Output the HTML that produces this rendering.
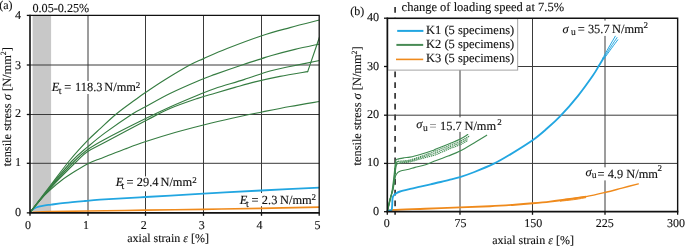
<!DOCTYPE html><html><head><meta charset="utf-8"><style>html,body{margin:0;padding:0;background:#fff;width:685px;height:246px;overflow:hidden}svg{display:block;will-change:transform}text{font-family:"Liberation Serif",serif;fill:#111;stroke:#111;stroke-width:0.12px;text-rendering:geometricPrecision}</style></head><body>
<svg width="685" height="246" viewBox="0 0 685 246">
<rect width="685" height="246" fill="#fff"/>
<rect x="32.6" y="15.40" width="18.5" height="197.45" fill="#c8c8c8"/>
<line x1="88.00" y1="15.40" x2="88.00" y2="212.85" stroke="#3a3a3a" stroke-width="1"/>
<line x1="145.50" y1="15.40" x2="145.50" y2="212.85" stroke="#3a3a3a" stroke-width="1"/>
<line x1="203.50" y1="15.40" x2="203.50" y2="212.85" stroke="#3a3a3a" stroke-width="1"/>
<line x1="261.50" y1="15.40" x2="261.50" y2="212.85" stroke="#3a3a3a" stroke-width="1"/>
<line x1="30.00" y1="163.30" x2="319.20" y2="163.30" stroke="#3a3a3a" stroke-width="1"/>
<line x1="30.00" y1="114.50" x2="319.20" y2="114.50" stroke="#3a3a3a" stroke-width="1"/>
<line x1="30.00" y1="65.00" x2="319.20" y2="65.00" stroke="#3a3a3a" stroke-width="1"/>
<rect x="52.00" y="81.00" width="90.00" height="13.00" fill="#fff"/>
<rect x="114.00" y="176.40" width="85.00" height="14.90" fill="#fff"/>
<rect x="238.00" y="193.00" width="79.00" height="13.20" fill="#fff"/>
<clipPath id="ca"><rect x="30.00" y="15.40" width="289.20" height="197.45"/></clipPath>
<g fill="none" stroke-linejoin="round" stroke-linecap="round" clip-path="url(#ca)">
<path d="M30.00,212.50 C33.33,212.37 40.50,211.95 50.00,211.70 C59.50,211.45 71.17,211.25 87.00,211.00 C102.83,210.75 125.67,210.48 145.00,210.20 C164.33,209.92 183.67,209.62 203.00,209.30 C222.33,208.98 241.58,208.65 261.00,208.30 C280.42,207.95 309.75,207.38 319.50,207.20" stroke="#ef8a1c" stroke-width="1.7"/>
<path d="M30.00,212.50 C30.33,212.08 31.17,210.75 32.00,210.00 C32.83,209.25 33.88,208.57 35.00,208.00 C36.12,207.43 37.03,207.03 38.70,206.60 C40.37,206.17 42.92,205.73 45.00,205.40 C47.08,205.07 47.87,205.02 51.20,204.60 C54.53,204.18 59.37,203.50 65.00,202.90 C70.63,202.30 79.17,201.53 85.00,201.00 C90.83,200.47 89.92,200.37 100.00,199.70 C110.08,199.03 128.28,198.00 145.50,197.00 C162.72,196.00 190.05,194.47 203.30,193.70 C216.55,192.93 215.38,192.93 225.00,192.40 C234.62,191.87 245.25,191.30 261.00,190.50 C276.75,189.70 309.75,188.08 319.50,187.60" stroke="#22a6e1" stroke-width="1.8"/>
<path d="M30.00,212.50 C31.67,210.42 36.67,203.75 40.00,200.00 C43.33,196.25 46.33,193.33 50.00,190.00 C53.67,186.67 57.83,183.12 62.00,180.00 C66.17,176.88 70.60,174.07 75.00,171.30 C79.40,168.53 84.23,165.50 88.40,163.40 C92.57,161.30 96.90,159.93 100.00,158.70 C103.10,157.47 102.83,157.62 107.00,156.00 C111.17,154.38 118.67,151.37 125.00,149.00 C131.33,146.63 136.67,144.55 145.00,141.80 C153.33,139.05 165.25,135.30 175.00,132.50 C184.75,129.70 194.00,127.38 203.50,125.00 C213.00,122.62 222.25,120.37 232.00,118.20 C241.75,116.03 252.33,113.95 262.00,112.00 C271.67,110.05 280.42,108.25 290.00,106.50 C299.58,104.75 314.58,102.33 319.50,101.50" stroke="#367d42" stroke-width="1.15"/>
<path d="M30.00,212.50 C33.33,208.50 42.33,196.92 50.00,188.50 C57.67,180.08 69.72,168.15 76.00,162.00 C82.28,155.85 82.87,154.88 87.70,151.60 C92.53,148.32 95.12,147.57 105.00,142.30 C114.88,137.03 136.17,125.63 147.00,120.00 C157.83,114.37 161.67,112.07 170.00,108.50 C178.33,104.93 189.50,101.15 197.00,98.60 C204.50,96.05 208.67,95.07 215.00,93.20 C221.33,91.33 228.33,89.28 235.00,87.40 C241.67,85.52 247.50,83.73 255.00,81.90 C262.50,80.07 271.22,78.12 280.00,76.40 C288.78,74.68 303.08,72.40 307.70,71.60" stroke="#367d42" stroke-width="1.15"/>
<path d="M30.00,212.50 C33.33,208.42 42.67,196.50 50.00,188.00 C57.33,179.50 67.72,167.92 74.00,161.50 C80.28,155.08 82.53,153.22 87.70,149.50 C92.87,145.78 95.68,144.20 105.00,139.20 C114.32,134.20 132.77,124.87 143.60,119.50 C154.43,114.13 161.10,111.00 170.00,107.00 C178.90,103.00 189.50,98.58 197.00,95.50 C204.50,92.42 207.18,91.15 215.00,88.50 C222.82,85.85 234.73,82.52 243.90,79.60 C253.07,76.68 262.32,73.18 270.00,71.00 C277.68,68.82 281.75,68.25 290.00,66.50 C298.25,64.75 314.58,61.50 319.50,60.50" stroke="#367d42" stroke-width="1.15"/>
<path d="M30.00,212.50 C33.33,208.25 43.00,195.58 50.00,187.00 C57.00,178.42 65.72,167.68 72.00,161.00 C78.28,154.32 82.20,151.58 87.70,146.90 C93.20,142.22 97.57,138.40 105.00,132.90 C112.43,127.40 125.57,118.25 132.30,113.90 C139.03,109.55 139.12,110.20 145.40,106.80 C151.68,103.40 160.85,97.97 170.00,93.50 C179.15,89.03 192.80,83.18 200.30,80.00 C207.80,76.82 207.92,76.93 215.00,74.40 C222.08,71.87 235.00,67.43 242.80,64.80 C250.60,62.17 257.00,60.15 261.80,58.60 C266.60,57.05 266.07,57.03 271.60,55.50 C277.13,53.97 287.02,51.32 295.00,49.40 C302.98,47.48 315.42,44.90 319.50,44.00" stroke="#367d42" stroke-width="1.15"/>
<path d="M30.00,212.50 C33.33,208.08 43.33,194.75 50.00,186.00 C56.67,177.25 63.72,167.60 70.00,160.00 C76.28,152.40 82.62,145.68 87.70,140.40 C92.78,135.12 95.73,132.70 100.50,128.30 C105.27,123.90 110.55,118.72 116.30,114.00 C122.05,109.28 130.15,103.57 135.00,100.00 C139.85,96.43 140.48,95.93 145.40,92.60 C150.32,89.27 157.03,84.63 164.50,80.00 C171.97,75.37 183.68,68.37 190.20,64.80 C196.72,61.23 197.45,61.32 203.60,58.60 C209.75,55.88 217.40,52.32 227.10,48.50 C236.80,44.68 251.32,39.18 261.80,35.70 C272.28,32.22 280.38,30.22 290.00,27.60 C299.62,24.98 314.58,21.27 319.50,20.00" stroke="#367d42" stroke-width="1.15"/>
<path d="M307.70,71.60 L319.60,36.80" stroke="#367d42" stroke-width="1.15"/>
</g>
<path d="M30.00,15.40 H319.20 V212.85" fill="none" stroke="#111" stroke-width="1.3"/>
<path d="M30.00,14.80 V212.85 H319.80" fill="none" stroke="#111" stroke-width="1.6"/>
<line x1="26.80" y1="212.85" x2="30.00" y2="212.85" stroke="#111" stroke-width="1.3"/>
<line x1="26.80" y1="163.30" x2="30.00" y2="163.30" stroke="#111" stroke-width="1.3"/>
<line x1="26.80" y1="114.50" x2="30.00" y2="114.50" stroke="#111" stroke-width="1.3"/>
<line x1="26.80" y1="65.00" x2="30.00" y2="65.00" stroke="#111" stroke-width="1.3"/>
<line x1="26.80" y1="15.40" x2="30.00" y2="15.40" stroke="#111" stroke-width="1.3"/>
<line x1="30.00" y1="212.85" x2="30.00" y2="215.80" stroke="#111" stroke-width="1.3"/>
<line x1="88.00" y1="212.85" x2="88.00" y2="215.80" stroke="#111" stroke-width="1.3"/>
<line x1="145.50" y1="212.85" x2="145.50" y2="215.80" stroke="#111" stroke-width="1.3"/>
<line x1="203.50" y1="212.85" x2="203.50" y2="215.80" stroke="#111" stroke-width="1.3"/>
<line x1="261.50" y1="212.85" x2="261.50" y2="215.80" stroke="#111" stroke-width="1.3"/>
<line x1="319.20" y1="212.85" x2="319.20" y2="215.80" stroke="#111" stroke-width="1.3"/>
<line x1="460.00" y1="18.20" x2="460.00" y2="211.60" stroke="#3a3a3a" stroke-width="1"/>
<line x1="532.50" y1="18.20" x2="532.50" y2="211.60" stroke="#3a3a3a" stroke-width="1"/>
<line x1="605.00" y1="18.20" x2="605.00" y2="211.60" stroke="#3a3a3a" stroke-width="1"/>
<line x1="387.30" y1="163.40" x2="677.65" y2="163.40" stroke="#3a3a3a" stroke-width="1"/>
<line x1="387.30" y1="115.20" x2="677.65" y2="115.20" stroke="#3a3a3a" stroke-width="1"/>
<line x1="387.30" y1="66.50" x2="677.65" y2="66.50" stroke="#3a3a3a" stroke-width="1"/>
<line x1="395.10" y1="7.00" x2="395.10" y2="214.80" stroke="#333" stroke-width="1.7" stroke-dasharray="5.8,4.95"/>
<rect x="415.00" y="117.30" width="90.00" height="14.60" fill="#fff"/>
<rect x="561.00" y="20.60" width="90.00" height="15.30" fill="#fff"/>
<rect x="584.00" y="167.30" width="80.00" height="13.10" fill="#fff"/>
<g fill="none" stroke-linejoin="round" stroke-linecap="round">
<path d="M387.30,211.60 C388.25,211.32 386.72,210.38 393.00,209.90 C399.28,209.42 413.83,209.12 425.00,208.70 C436.17,208.28 449.17,207.82 460.00,207.40 C470.83,206.98 480.83,206.65 490.00,206.20 C499.17,205.75 507.88,205.18 515.00,204.70 C522.12,204.22 526.87,203.82 532.70,203.30 C538.53,202.78 544.73,202.20 550.00,201.60 C555.27,201.00 558.30,200.53 564.30,199.70 C570.30,198.87 582.38,197.12 586.00,196.60" stroke="#ef8a1c" stroke-width="1.9" stroke-linecap="butt"/>
<path d="M564.30,199.70 C567.92,199.18 579.10,197.83 586.00,196.60 C592.90,195.37 599.70,193.72 605.70,192.30 C611.70,190.88 616.57,189.50 622.00,188.10 C627.43,186.70 635.58,184.60 638.30,183.90" stroke="#ef8a1c" stroke-width="1.45"/>
<path d="M560.00,201.20 C562.50,200.92 570.67,200.10 575.00,199.50 C579.33,198.90 584.17,197.92 586.00,197.60" stroke="#ef8a1c" stroke-width="1.0" stroke-linecap="butt"/>
<path d="M387.30,211.30 C387.58,211.18 388.28,210.83 389.00,210.60 C389.72,210.37 391.07,210.83 391.60,209.90 C392.13,208.97 392.05,206.90 392.20,205.00 C392.35,203.10 392.27,200.07 392.50,198.50 C392.73,196.93 393.02,196.45 393.60,195.60 C394.18,194.75 394.93,194.08 396.00,193.40 C397.07,192.72 397.63,192.25 400.00,191.50 C402.37,190.75 406.82,189.72 410.20,188.90 C413.58,188.08 416.92,187.37 420.30,186.60 C423.68,185.83 427.10,185.07 430.50,184.30 C433.90,183.53 437.45,182.78 440.70,182.00 C443.95,181.22 446.78,180.42 450.00,179.60 C453.22,178.78 455.93,178.37 460.00,177.10 C464.07,175.83 468.75,174.23 474.40,172.00 C480.05,169.77 487.97,166.60 493.90,163.70 C499.83,160.80 503.62,158.47 510.00,154.60 C516.38,150.73 526.03,144.85 532.20,140.50 C538.37,136.15 542.28,132.60 547.00,128.50 C551.72,124.40 555.33,121.35 560.50,115.90 C565.67,110.45 572.60,102.53 578.00,95.80 C583.40,89.07 589.40,80.53 592.90,75.50 C596.40,70.47 597.22,68.52 599.00,65.60 C600.78,62.68 602.83,59.27 603.60,58.00" stroke="#22a6e1" stroke-width="1.85"/>
<path d="M602.60,58.50 C603.67,56.58 606.88,50.72 609.00,47.00 C611.12,43.28 614.25,38.00 615.30,36.20" stroke="#22a6e1" stroke-width="1.0"/>
<path d="M603.40,58.50 C604.57,56.67 608.13,50.98 610.40,47.50 C612.67,44.02 615.90,39.25 617.00,37.60" stroke="#22a6e1" stroke-width="1.0"/>
<path d="M604.20,58.50 C605.43,56.78 609.33,51.32 611.60,48.20 C613.87,45.08 616.77,41.20 617.80,39.80" stroke="#22a6e1" stroke-width="1.0"/>
<path d="M398.50,161.30 C399.42,161.22 402.08,161.02 404.00,160.80 C405.92,160.58 407.17,160.73 410.00,160.00 C412.83,159.27 417.22,157.70 421.00,156.40 C424.78,155.10 430.20,153.13 432.70,152.20 C435.20,151.27 433.12,151.97 436.00,150.80 C438.88,149.63 446.00,146.78 450.00,145.20 C454.00,143.62 456.72,142.87 460.00,141.30 C463.28,139.73 468.08,136.72 469.70,135.80" stroke="#3e8a50" stroke-width="1.15" stroke-linecap="butt" stroke-dasharray="1.3,0.7" stroke-dashoffset="0.00"/>
<path d="M399.00,162.28 C399.83,162.18 402.17,161.92 404.00,161.70 C405.83,161.48 407.17,161.63 410.00,160.95 C412.83,160.27 417.22,158.78 421.00,157.60 C424.78,156.43 430.20,154.72 432.70,153.90 C435.20,153.08 433.12,153.87 436.00,152.70 C438.88,151.53 446.00,148.51 450.00,146.90 C454.00,145.29 457.03,144.43 460.00,143.05 C462.97,141.67 466.50,139.37 467.80,138.64" stroke="#3e8a50" stroke-width="1.15" stroke-linecap="butt" stroke-dasharray="1.3,0.7" stroke-dashoffset="0.65"/>
<path d="M399.00,163.30 C399.83,163.18 402.17,162.83 404.00,162.60 C405.83,162.37 407.17,162.53 410.00,161.90 C412.83,161.27 417.22,159.85 421.00,158.80 C424.78,157.75 430.20,156.30 432.70,155.60 C435.20,154.90 433.12,155.77 436.00,154.60 C438.88,153.43 446.00,150.23 450.00,148.60 C454.00,146.97 457.03,146.17 460.00,144.80 C462.97,143.43 466.50,141.13 467.80,140.40" stroke="#3e8a50" stroke-width="1.15" stroke-linecap="butt" stroke-dasharray="1.3,0.7" stroke-dashoffset="1.30"/>
<path d="M387.30,211.50 C387.75,209.42 389.05,202.58 390.00,199.00 C390.95,195.42 392.20,193.67 393.00,190.00 C393.80,186.33 394.33,180.67 394.80,177.00 C395.27,173.33 395.47,170.12 395.80,168.00 C396.13,165.88 396.27,165.08 396.80,164.30 C397.33,163.52 398.63,163.47 399.00,163.30" stroke="#3e8a50" stroke-width="1.1"/>
<path d="M387.30,211.50 C387.75,209.50 389.12,203.08 390.00,199.50 C390.88,195.92 391.87,193.92 392.60,190.00 C393.33,186.08 393.93,179.83 394.40,176.00 C394.87,172.17 395.07,169.23 395.40,167.00 C395.73,164.77 395.88,163.55 396.40,162.60 C396.92,161.65 398.15,161.52 398.50,161.30" stroke="#3e8a50" stroke-width="1.1"/>
<path d="M387.30,211.50 C387.75,209.75 389.13,204.58 390.00,201.00 C390.87,197.42 391.75,193.33 392.50,190.00 C393.25,186.67 393.98,183.37 394.50,181.00 C395.02,178.63 395.10,177.17 395.60,175.80 C396.10,174.43 396.67,173.60 397.50,172.80 C398.33,172.00 398.68,171.60 400.60,171.00 C402.52,170.40 406.60,169.80 409.00,169.20 C411.40,168.60 412.23,168.15 415.00,167.40 C417.77,166.65 422.43,165.72 425.60,164.70 C428.77,163.68 430.23,162.75 434.00,161.30 C437.77,159.85 443.87,157.72 448.20,156.00 C452.53,154.28 455.37,153.38 460.00,151.00 C464.63,148.62 471.55,144.33 476.00,141.70 C480.45,139.07 484.92,136.28 486.70,135.20" stroke="#3e8a50" stroke-width="1.1"/>
<path d="M387.30,211.50 C387.75,209.58 389.18,203.58 390.00,200.00 C390.82,196.42 391.53,194.00 392.20,190.00 C392.87,186.00 393.53,180.00 394.00,176.00 C394.47,172.00 394.72,168.50 395.00,166.00 C395.28,163.50 395.37,162.12 395.70,161.00 C396.03,159.88 395.58,159.83 397.00,159.30 C398.42,158.77 402.03,158.17 404.20,157.80 C406.37,157.43 407.20,157.70 410.00,157.10 C412.80,156.50 417.22,155.30 421.00,154.20 C424.78,153.10 430.20,151.35 432.70,150.50 C435.20,149.65 433.12,150.27 436.00,149.10 C438.88,147.93 446.03,145.13 450.00,143.50 C453.97,141.87 456.83,140.80 459.80,139.30 C462.77,137.80 466.47,135.30 467.80,134.50" stroke="#3e8a50" stroke-width="1.1"/>
</g>
<rect x="387.9" y="18.7" width="129.8" height="51.4" fill="#fff" stroke="#9a9a9a" stroke-width="0.9"/>
<line x1="397.20" y1="30.90" x2="423.40" y2="30.90" stroke="#22a6e1" stroke-width="2"/>
<line x1="396.40" y1="44.90" x2="423.20" y2="44.90" stroke="#488b55" stroke-width="2"/>
<line x1="396.00" y1="59.40" x2="423.20" y2="59.40" stroke="#ef8a1c" stroke-width="1.6"/>
<path d="M387.30,18.20 H677.65 V211.60" fill="none" stroke="#111" stroke-width="1.4"/>
<path d="M387.30,17.50 V211.60 H678.35" fill="none" stroke="#111" stroke-width="1.6"/>
<line x1="384.00" y1="211.70" x2="387.30" y2="211.70" stroke="#111" stroke-width="1.3"/>
<line x1="384.00" y1="163.40" x2="387.30" y2="163.40" stroke="#111" stroke-width="1.3"/>
<line x1="384.00" y1="115.20" x2="387.30" y2="115.20" stroke="#111" stroke-width="1.3"/>
<line x1="384.00" y1="66.50" x2="387.30" y2="66.50" stroke="#111" stroke-width="1.3"/>
<line x1="384.00" y1="18.20" x2="387.30" y2="18.20" stroke="#111" stroke-width="1.3"/>
<line x1="387.30" y1="211.60" x2="387.30" y2="214.80" stroke="#111" stroke-width="1.3"/>
<line x1="460.00" y1="211.60" x2="460.00" y2="214.80" stroke="#111" stroke-width="1.3"/>
<line x1="532.50" y1="211.60" x2="532.50" y2="214.80" stroke="#111" stroke-width="1.3"/>
<line x1="605.00" y1="211.60" x2="605.00" y2="214.80" stroke="#111" stroke-width="1.3"/>
<line x1="677.65" y1="211.60" x2="677.65" y2="214.80" stroke="#111" stroke-width="1.3"/>
<text x="-0.80" y="8.50" font-size="12" text-anchor="start">(a)</text>
<text x="32.40" y="11.70" font-size="12.2" text-anchor="start">0.05-0.25%</text>
<text x="21.20" y="216.30" font-size="12.2" text-anchor="end">0</text>
<text x="21.20" y="166.20" font-size="12.2" text-anchor="end">1</text>
<text x="21.20" y="116.90" font-size="12.2" text-anchor="end">2</text>
<text x="21.20" y="68.80" font-size="12.2" text-anchor="end">3</text>
<text x="21.20" y="18.90" font-size="12.2" text-anchor="end">4</text>
<text x="28.10" y="228.80" font-size="12" text-anchor="middle">0</text>
<text x="86.10" y="228.80" font-size="12" text-anchor="middle">1</text>
<text x="143.80" y="228.80" font-size="12" text-anchor="middle">2</text>
<text x="201.70" y="228.80" font-size="12" text-anchor="middle">3</text>
<text x="259.50" y="228.80" font-size="12" text-anchor="middle">4</text>
<text x="317.50" y="228.80" font-size="12" text-anchor="middle">5</text>
<text x="127.30" y="241.80" font-size="12" text-anchor="start">axial strain <tspan font-style="italic">ε</tspan> [%]</text>
<text transform="translate(10.6,166.3) rotate(-90)" font-size="12.4">tensile stress <tspan font-style="italic">σ</tspan> [N/mm<tspan font-size="8" dy="-4.5">2</tspan><tspan dy="4.5">]</tspan></text>
<text x="51.85" y="91.30" font-size="12.4" font-style="italic">E</text>
<text x="58.81" y="94.20" font-size="9.8">t</text>
<text x="64.18" y="91.30" font-size="12.4">=</text>
<text x="75.11" y="91.30" font-size="12.4">118.3</text>
<text x="104.24" y="91.30" font-size="12.4">N/mm</text>
<text x="135.70" y="88.00" font-size="9">2</text>
<text x="115.85" y="186.30" font-size="12.4" font-style="italic">E</text>
<text x="121.61" y="189.20" font-size="9.8">t</text>
<text x="126.38" y="186.30" font-size="12.4">=</text>
<text x="136.76" y="186.30" font-size="12.4">29.4</text>
<text x="160.44" y="186.30" font-size="12.4">N/mm</text>
<text x="192.20" y="183.00" font-size="9">2</text>
<text x="239.85" y="203.70" font-size="12.4" font-style="italic">E</text>
<text x="246.11" y="206.60" font-size="9.8">t</text>
<text x="251.48" y="203.70" font-size="12.4">=</text>
<text x="261.86" y="203.70" font-size="12.4">2.3</text>
<text x="280.04" y="203.70" font-size="12.4">N/mm</text>
<text x="311.50" y="200.00" font-size="9">2</text>
<text x="350.20" y="14.60" font-size="12" text-anchor="start">(b)</text>
<text x="379.10" y="215.00" font-size="12.2" text-anchor="end">0</text>
<text x="379.10" y="166.30" font-size="12.2" text-anchor="end">10</text>
<text x="379.10" y="118.00" font-size="12.2" text-anchor="end">20</text>
<text x="379.10" y="69.60" font-size="12.2" text-anchor="end">30</text>
<text x="379.10" y="21.20" font-size="12.2" text-anchor="end">40</text>
<text x="386.80" y="226.60" font-size="12" text-anchor="middle">0</text>
<text x="460.40" y="226.60" font-size="12" text-anchor="middle">75</text>
<text x="533.20" y="226.60" font-size="12" text-anchor="middle">150</text>
<text x="604.70" y="226.60" font-size="12" text-anchor="middle">225</text>
<text x="675.90" y="226.60" font-size="12" text-anchor="middle">300</text>
<text x="492.20" y="243.50" font-size="12" text-anchor="start">axial strain <tspan font-style="italic">ε</tspan> [%]</text>
<text transform="translate(361.2,165.5) rotate(-90)" font-size="12.4">tensile stress <tspan font-style="italic">σ</tspan> [N/mm<tspan font-size="8" dy="-4.5">2</tspan><tspan dy="4.5">]</tspan></text>
<text x="401.60" y="10.80" font-size="12.5" text-anchor="start">change of loading speed at 7.5%</text>
<text x="426.00" y="33.90" font-size="12.5" text-anchor="start">K1 (5 specimens)</text>
<text x="426.00" y="47.90" font-size="12.5" text-anchor="start">K2 (5 specimens)</text>
<text x="426.00" y="62.30" font-size="12.5" text-anchor="start">K3 (5 specimens)</text>
<text x="562.53" y="32.60" font-size="12.4" font-style="italic">σ</text>
<text x="570.88" y="34.60" font-size="9.6">u</text>
<text x="577.68" y="32.90" font-size="12.4">=</text>
<text x="587.91" y="32.90" font-size="12.4">35.7</text>
<text x="612.04" y="32.90" font-size="12.4">N/mm</text>
<text x="643.50" y="28.10" font-size="9">2</text>
<text x="416.33" y="128.10" font-size="12.4" font-style="italic">σ</text>
<text x="423.08" y="130.50" font-size="9.6">u</text>
<text x="429.58" y="129.90" font-size="12.4" style="fill:#8a8a8a;stroke:#8a8a8a">=</text>
<text x="440.11" y="129.90" font-size="12.4">15.7</text>
<text x="464.44" y="129.90" font-size="12.4">N/mm</text>
<text x="497.30" y="125.10" font-size="9">2</text>
<text x="585.43" y="176.00" font-size="12.4" font-style="italic">σ</text>
<text x="591.68" y="177.90" font-size="9.6">u</text>
<text x="597.38" y="177.90" font-size="12.4">=</text>
<text x="607.66" y="177.90" font-size="12.4">4.9</text>
<text x="626.24" y="177.90" font-size="12.4">N/mm</text>
<text x="657.60" y="171.30" font-size="9">2</text>
</svg></body></html>
